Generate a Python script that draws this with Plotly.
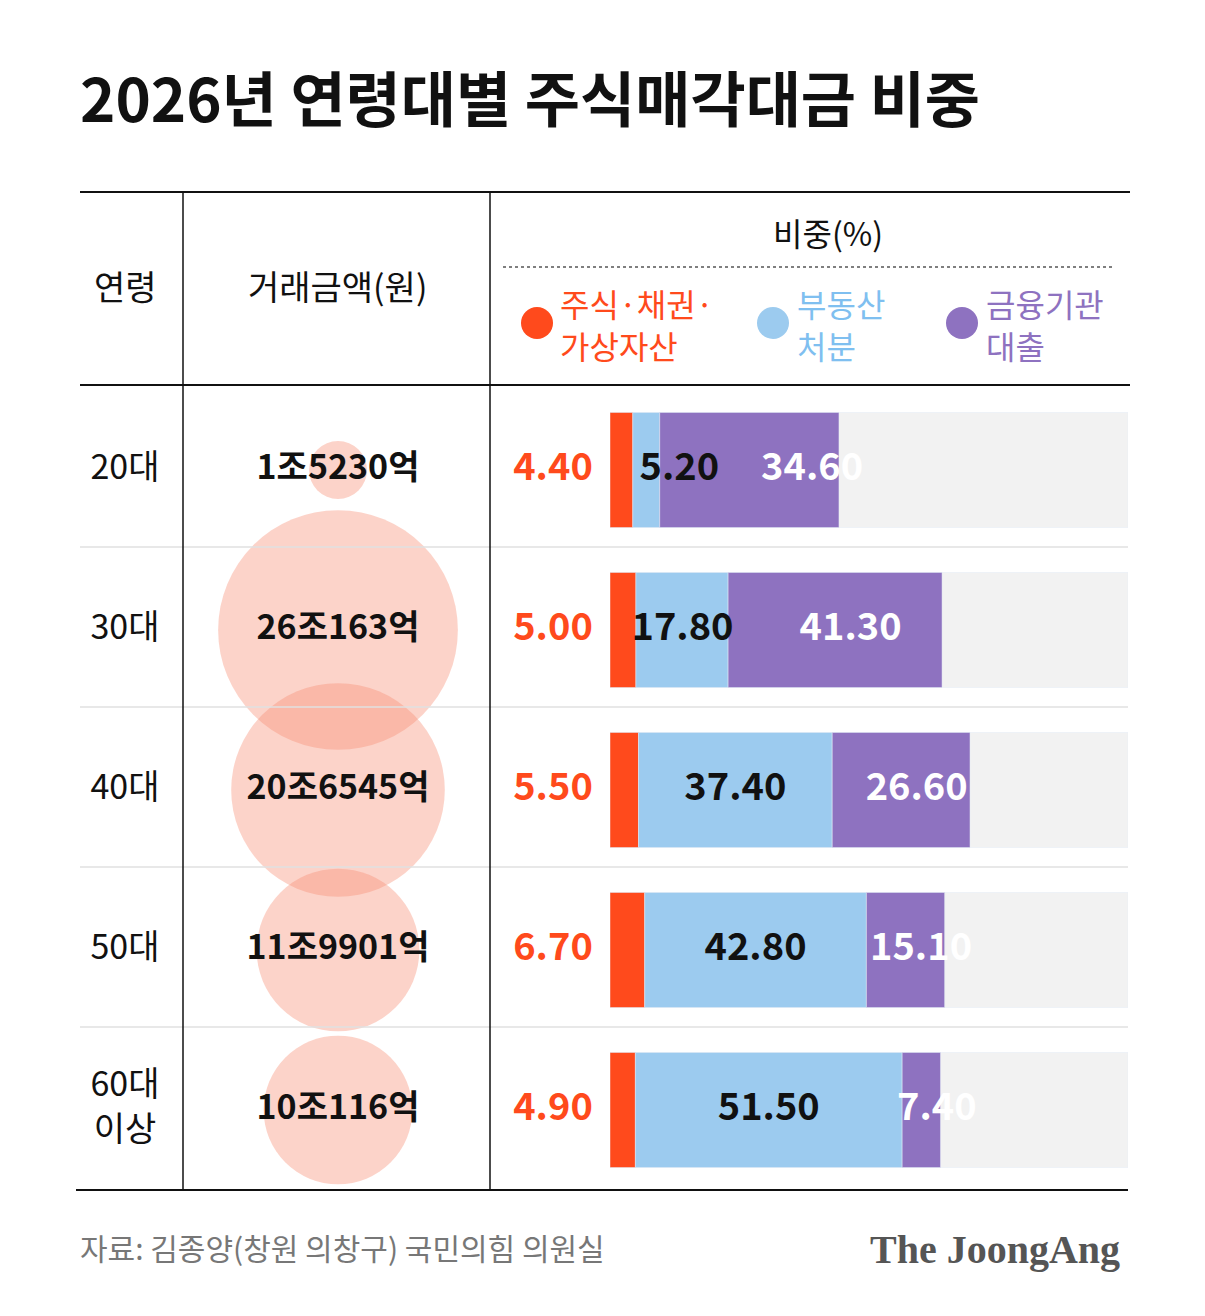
import plotly.graph_objects as go

ages = ["20대", "30대", "40대", "50대", "60대<br>이상"]
amounts = ["1조5230억", "26조163억", "20조6545억", "11조9901억", "10조116억"]
amount_jo = [1.523, 26.0163, 20.6545, 11.9901, 10.0116]
stock = [4.40, 5.00, 5.50, 6.70, 4.90]
realty = [5.20, 17.80, 37.40, 42.80, 51.50]
loan = [34.60, 41.30, 26.60, 15.10, 7.40]

RED = "#ff4a1c"
BLUE = "#9ccbef"
PURPLE = "#8e72c0"
FONT = "Noto Sans CJK KR"

row_y = [470, 630, 790, 950, 1110]
X0, X1 = 610, 1128  # page pixel span of 0..100 %
OFF = 8  # page body margin

fig = go.Figure()

# bubbles (area proportional)
fig.add_trace(go.Scatter(x=[338] * 5, y=row_y, mode="markers+text",
                         marker=dict(size=[v ** 0.5 for v in amount_jo], sizemode="diameter",
                                     sizeref=1 / 47, color="rgba(247,140,115,0.55)", line_width=0),
                         text=amounts, textfont=dict(family=FONT, size=34, color="#111", weight="bold"),
                         textposition="middle center", xaxis="x", yaxis="y", hoverinfo="skip"))

# ages and red values
fig.add_trace(go.Scatter(x=[125] * 5, y=row_y, mode="text", text=ages,
                         textfont=dict(family=FONT, size=34, color="#111"), xaxis="x", yaxis="y"))
fig.add_trace(go.Scatter(x=[553] * 5, y=row_y, mode="text", text=[f"{v:.2f}" for v in stock],
                         textfont=dict(family=FONT, size=38, color=RED, weight="bold"),
                         xaxis="x", yaxis="y"))
fig.add_trace(go.Scatter(x=[537, 773, 962], y=[323, 323, 323], mode="markers",
                         marker=dict(size=32, color=[RED, BLUE, PURPLE]), xaxis="x", yaxis="y"))

# bars (xaxis2 = percent, yaxis2 = pixel)
fig.add_trace(go.Bar(orientation="h", y=row_y, x=[100] * 5, base=0, width=115,
                     marker_color="#f2f2f2", xaxis="x2", yaxis="y2", hoverinfo="skip"))
fig.add_trace(go.Bar(orientation="h", y=row_y, x=stock, base=[0] * 5, width=115,
                     marker_color=RED, xaxis="x2", yaxis="y2"))
fig.add_trace(go.Bar(orientation="h", y=row_y, x=realty, base=stock, width=115,
                     marker_color=BLUE, xaxis="x2", yaxis="y2"))
loan_base = [s + r for s, r in zip(stock, realty)]
fig.add_trace(go.Bar(orientation="h", y=row_y, x=loan, base=loan_base, width=115,
                     marker_color=PURPLE, xaxis="x2", yaxis="y2"))

blue_lab = [max(s + r / 2, s + 9) for s, r in zip(stock, realty)]
purple_lab = [b + l / 2 + 3 for b, l in zip(loan_base, loan)]
purple_lab[0] = loan_base[0] + loan[0] * 0.85
fig.add_trace(go.Scatter(x=blue_lab, y=row_y, mode="text", text=[f"{v:.2f}" for v in realty],
                         textfont=dict(family=FONT, size=38, color="#111", weight="bold"),
                         xaxis="x2", yaxis="y2"))
fig.add_trace(go.Scatter(x=purple_lab, y=row_y, mode="text", text=[f"{v:.2f}" for v in loan],
                         textfont=dict(family=FONT, size=38, color="white", weight="bold"),
                         xaxis="x2", yaxis="y2"))

shapes = []
def line(x0, y0, x1, y1, color="#111", width=2, dash="solid"):
    shapes.append(dict(type="line", xref="x", yref="y", x0=x0, y0=y0, x1=x1, y1=y1,
                       line=dict(color=color, width=width, dash=dash), layer="above"))

line(80, 192, 1130, 192)
line(80, 385, 1130, 385)
line(76, 1190, 1128, 1190)
for y in [547, 707, 867, 1027]:
    line(80, y, 1128, y, color="#e0e0e0", width=1.5)
line(183, 192, 183, 1190, width=1.5)
line(490, 192, 490, 1190, width=1.5)
line(503, 267, 1115, 267, color="#555", width=1.5, dash="dot")

ann = []
def text(x, y, t, size, color="#111", xanchor="center", bold=False, family=FONT):
    ann.append(dict(xref="x", yref="y", x=x, y=y, text=t, showarrow=False, xanchor=xanchor,
                    yanchor="middle", align="left",
                    font=dict(family=family, size=size, color=color, weight="bold" if bold else "normal")))

text(78, 95, "2026년 연령대별 주식매각대금 비중", 60, bold=True, xanchor="left")
text(125, 285, "연령", 34)
text(337, 285, "거래금액(원)", 34)
text(828, 232, "비중(%)", 32)
text(558, 324, "주식·채권·<br>가상자산", 32, color=RED, xanchor="left")
text(795, 324, "부동산<br>처분", 32, color="#7fbff0", xanchor="left")
text(984, 324, "금융기관<br>대출", 32, color=PURPLE, xanchor="left")
text(78, 1247, "자료: 김종양(창원 의창구) 국민의힘 의원실", 30, color="#777", xanchor="left")
text(1122, 1249, "The JoongAng", 40, color="#555", xanchor="right", bold=True,
     family="Liberation Serif")

fig.update_layout(
    width=1205, height=1316, margin=dict(l=0, r=0, t=0, b=0),
    paper_bgcolor="white", plot_bgcolor="rgba(0,0,0,0)", showlegend=False, barmode="overlay",
    xaxis=dict(range=[OFF, 1205 + OFF], domain=[0, 1], visible=False),
    yaxis=dict(range=[1316 + OFF, OFF], domain=[0, 1], visible=False),
    xaxis2=dict(range=[0, 100], domain=[(X0 - OFF) / 1205, (X1 - OFF) / 1205],
                visible=False, anchor="y2"),
    yaxis2=dict(range=[1316 + OFF, OFF], domain=[0, 1], visible=False, anchor="x2"),
    shapes=shapes, annotations=ann,
)
fig.write_html("out.html")
